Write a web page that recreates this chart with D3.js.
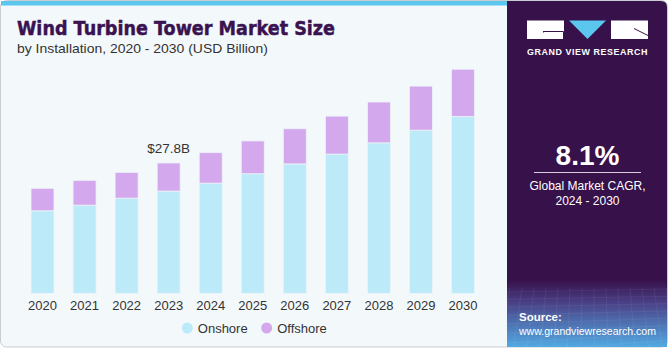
<!DOCTYPE html>
<html>
<head>
<meta charset="utf-8">
<script src="https://cdn.jsdelivr.net/npm/d3@7"></script>
<style>
  body { margin: 0; background: #ffffff; }
  svg { display: block; font-family: "Liberation Sans", Arial, sans-serif; }
</style>
</head>
<body>
<svg id="chart"></svg>
<script>
// chart data (USD Billion)
const years = ["2020", "2021", "2022", "2023", "2024", "2025", "2026", "2027", "2028", "2029", "2030"];
const onshore = [17.6, 18.8, 20.3, 21.8, 23.5, 25.5, 27.6, 29.7, 32.1, 34.8, 37.7];
const offshore = [4.8, 5.3, 5.5, 6.0, 6.5, 7.0, 7.5, 8.1, 8.7, 9.4, 10.1];
const seriesNames = ["Onshore", "Offshore"];
const seriesColors = ["#bdeaf9", "#d4a8ec"];
const calloutYear = "2023";
const calloutText = "$27.8B";

const width = 671, height = 350;
const svg = d3.select("#chart").attr("width", width).attr("height", height);

// card background
svg.append("rect")
    .attr("x", 0.5).attr("y", 0.5)
    .attr("width", 667).attr("height", 346.5)
    .attr("rx", 6)
    .attr("fill", "#f3f8fb")
    .attr("stroke", "#c9cdd0");

svg.append("rect")
    .attr("x", 1).attr("y", 1)
    .attr("width", 506).attr("height", 4.5)
    .attr("fill", "#5bc6ee");

// right panel
const defs = svg.append("defs");
const grad = defs.append("linearGradient")
    .attr("id", "srcGrad").attr("x1", 0).attr("y1", 0).attr("x2", 0).attr("y2", 1);
grad.append("stop").attr("offset", "0%").attr("stop-color", "#37114a");
grad.append("stop").attr("offset", "35%").attr("stop-color", "#4a4288");
grad.append("stop").attr("offset", "100%").attr("stop-color", "#52a9e2");

svg.append("path")
    .attr("d", "M507,1 H661 Q667,1 667,7 V347 H507 Z")
    .attr("fill", "#37114a");

svg.append("rect")
    .attr("x", 507).attr("y", 280)
    .attr("width", 160).attr("height", 67)
    .attr("fill", "url(#srcGrad)");

// faint grid texture in the source box
const gridG = svg.append("g").attr("stroke", "#ffffff").attr("stroke-opacity", 0.1).attr("stroke-width", 0.6);
for (let i = 0; i < 9; i++) {
    gridG.append("line")
        .attr("x1", 507).attr("x2", 667)
        .attr("y1", 292 + i * 7 + i * i * 0.25).attr("y2", 289 + i * 7.3);
}
for (let i = 0; i < 14; i++) {
    gridG.append("line")
        .attr("x1", 510 + i * 12).attr("x2", 500 + i * 13.5)
        .attr("y1", 288).attr("y2", 347);
}

// logo
const logo = svg.append("g");
logo.append("rect").attr("x", 527).attr("y", 20.5).attr("width", 37).attr("height", 18.5).attr("fill", "#ffffff");
logo.append("path").attr("d", "M569,20.5 H606 L587.5,39 Z").attr("fill", "#5bc6ee");
logo.append("rect").attr("x", 611).attr("y", 20.5).attr("width", 37).attr("height", 18.5).attr("fill", "#ffffff");
logo.append("path").attr("d", "M543.5,31 V32.5 M543.5,31.5 H563.5 V39")
    .attr("stroke", "#37114a").attr("stroke-width", 1).attr("fill", "none");
logo.append("path").attr("d", "M634,28.5 L648,35.5")
    .attr("stroke", "#37114a").attr("stroke-width", 1).attr("fill", "none");
svg.append("text")
    .attr("x", 587.5).attr("y", 54.5)
    .attr("text-anchor", "middle")
    .attr("fill", "#ffffff")
    .attr("font-size", 9.5).attr("font-weight", "bold")
    .attr("letter-spacing", 0.6)
    .attr("textLength", 121).attr("lengthAdjust", "spacingAndGlyphs")
    .text("GRAND VIEW RESEARCH");

// CAGR block
svg.append("text")
    .attr("x", 587.5).attr("y", 165)
    .attr("text-anchor", "middle")
    .attr("fill", "#ffffff")
    .attr("font-size", 28).attr("font-weight", "bold")
    .text("8.1%");
svg.append("line")
    .attr("x1", 534).attr("x2", 641)
    .attr("y1", 172.5).attr("y2", 172.5)
    .attr("stroke", "#d6cfe0").attr("stroke-width", 1.2);
svg.append("text")
    .attr("x", 587.5).attr("y", 189.5)
    .attr("text-anchor", "middle")
    .attr("fill", "#ffffff").attr("font-size", 12)
    .text("Global Market CAGR,");
svg.append("text")
    .attr("x", 587.5).attr("y", 204.5)
    .attr("text-anchor", "middle")
    .attr("fill", "#ffffff").attr("font-size", 12)
    .text("2024 - 2030");

// source
svg.append("text")
    .attr("x", 519).attr("y", 321)
    .attr("fill", "#ffffff").attr("font-size", 11.5).attr("font-weight", "bold")
    .text("Source:");
svg.append("text")
    .attr("x", 519).attr("y", 335)
    .attr("fill", "#ffffff").attr("font-size", 11.5)
    .attr("textLength", 137).attr("lengthAdjust", "spacingAndGlyphs")
    .text("www.grandviewresearch.com");

// titles
svg.append("text")
    .attr("x", 17).attr("y", 35)
    .attr("fill", "#3a1250")
    .attr("stroke", "#3a1250").attr("stroke-width", 0.5)
    .attr("font-size", 20).attr("font-weight", "bold")
    .attr("textLength", 318).attr("lengthAdjust", "spacingAndGlyphs")
    .style("font-family", "'DejaVu Sans', sans-serif")
    .text("Wind Turbine Tower Market Size");
svg.append("text")
    .attr("x", 17).attr("y", 53)
    .attr("fill", "#333333")
    .attr("font-size", 13.5)
    .attr("textLength", 251).attr("lengthAdjust", "spacingAndGlyphs")
    .text("by Installation, 2020 - 2030 (USD Billion)");

// scales
const x = d3.scaleBand()
    .domain(years)
    .range([20.5, 485])
    .paddingInner(0.453)
    .paddingOuter(0.25);

const y = d3.scaleLinear()
    .domain([0, 50])
    .range([293.3, 58.9]);

const table = years.map((yr, i) => ({ year: yr, Onshore: onshore[i], Offshore: offshore[i] }));
const stacked = d3.stack().keys(seriesNames)(table);

const color = d3.scaleOrdinal().domain(seriesNames).range(seriesColors);

svg.append("g")
    .selectAll("g")
    .data(stacked)
    .join("g")
    .attr("fill", d => color(d.key))
    .selectAll("rect")
    .data(d => d)
    .join("rect")
    .attr("x", d => x(d.data.year))
    .attr("y", d => y(d[1]))
    .attr("width", x.bandwidth())
    .attr("height", d => y(d[0]) - y(d[1]))
    .attr("stroke", "#ecf4fa")
    .attr("stroke-width", 0.8);

// x axis
const xAxis = d3.axisBottom(x).tickSize(0).tickPadding(7);
const xAxisG = svg.append("g")
    .attr("transform", `translate(0,${y(0)})`)
    .call(xAxis);
xAxisG.select(".domain").remove();
xAxisG.selectAll("text")
    .attr("fill", "#333333")
    .attr("font-size", 13)
    .style("font-family", "'Liberation Sans', Arial, sans-serif");

// callout
const ci = years.indexOf(calloutYear);
svg.append("text")
    .attr("x", x(calloutYear) + x.bandwidth() / 2)
    .attr("y", y(onshore[ci] + offshore[ci]) - 10)
    .attr("text-anchor", "middle")
    .attr("fill", "#333333")
    .attr("font-size", 13.5)
    .text(calloutText);

// legend
const legendX = [187.3, 266.7];
const legend = svg.append("g")
    .selectAll("g")
    .data(seriesNames)
    .join("g")
    .attr("transform", (d, i) => `translate(${legendX[i]},328)`);
legend.append("circle").attr("r", 5.5).attr("fill", d => color(d));
legend.append("text")
    .attr("x", 10.5).attr("y", 4.5)
    .attr("fill", "#333333")
    .attr("font-size", 13)
    .text(d => d);
</script>
</body>
</html>
